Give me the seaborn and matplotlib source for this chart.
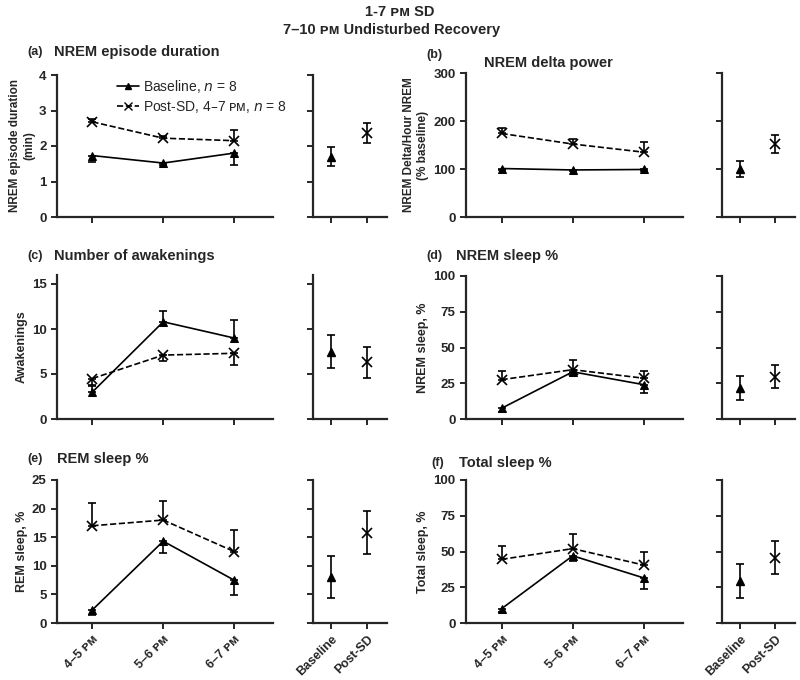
import numpy as np
import pandas as pd
import matplotlib
matplotlib.use("Agg")
import matplotlib.pyplot as plt
import seaborn as sns
from matplotlib.lines import Line2D

# ---- data ----
hours = ['4–5 ᴘᴍ', '5–6 ᴘᴍ', '6–7 ᴘᴍ']
groups = ['Baseline', 'Post-SD']

dur_base = [1.73, 1.52, 1.80]
dur_base_err = [0.18, 0.05, 0.33]
dur_post = [2.68, 2.22, 2.15]
dur_post_err = [0.09, 0.05, 0.30]
dur_mean = [1.70, 2.37]
dur_mean_err = [0.27, 0.28]

delta_base = [101, 98, 99]
delta_base_err = [4, 3, 3]
delta_post = [174, 152, 135]
delta_post_err = [11, 10, 22]
delta_mean = [100, 152]
delta_mean_err = [17, 18]

awake_base = [3.0, 10.8, 9.0]
awake_base_err = [0.7, 1.2, 2.0]
awake_post = [4.5, 7.1, 7.3]
awake_post_err = [0.7, 0.6, 1.3]
awake_mean = [7.5, 6.3]
awake_mean_err = [1.8, 1.7]

nrem_base = [7.5, 33.0, 24.0]
nrem_base_err = [2.5, 3.0, 5.5]
nrem_post = [27.5, 34.5, 28.5]
nrem_post_err = [6.0, 6.5, 5.0]
nrem_mean = [21.5, 29.5]
nrem_mean_err = [8.5, 8.0]

rem_base = [2.3, 14.3, 7.5]
rem_base_err = [0.9, 2.1, 2.6]
rem_post = [17.0, 18.0, 12.5]
rem_post_err = [4.0, 3.4, 3.7]
rem_mean = [8.1, 15.8]
rem_mean_err = [3.7, 3.7]

tot_base = [10.0, 47.0, 31.5]
tot_base_err = [2.5, 3.5, 7.5]
tot_post = [44.5, 52.0, 40.5]
tot_post_err = [9.5, 10.0, 9.0]
tot_mean = [29.5, 45.5]
tot_mean_err = [11.8, 11.5]

sns.set_style("ticks")
plt.rcParams['font.family'] = ['Liberation Sans', 'DejaVu Sans']
plt.rcParams['axes.linewidth'] = 1.6
plt.rcParams['xtick.major.width'] = 1.4
plt.rcParams['ytick.major.width'] = 1.4
plt.rcParams['xtick.major.size'] = 4
plt.rcParams['ytick.major.size'] = 4

W, H = 800, 680
fig = plt.figure(figsize=(8, 6.8), dpi=100)


def px_axes(x0, y0, x1, y1):
    return fig.add_axes([x0 / W, (H - y1) / H, (x1 - x0) / W, (y1 - y0) / H])


def bold_ticks(a):
    for lab in a.get_xticklabels() + a.get_yticklabels():
        lab.set_fontweight('bold')


def draw_panel(box_main, box_side, base, base_err, post, post_err, mean, mean_err,
               ylim, yticks, ylabel, base_up=False, show_x=False, ylab_size=9):
    ax = px_axes(*box_main)
    sx = px_axes(*box_side)
    df = pd.DataFrame({'hour': np.arange(3).tolist() * 2,
                       'value': base + post,
                       'group': ['Baseline'] * 3 + ['Post-SD'] * 3})
    sns.lineplot(data=df[df.group == 'Baseline'], x='hour', y='value', ax=ax,
                 color='black', lw=1.2, marker='^', markersize=6, markeredgecolor='black')
    sns.lineplot(data=df[df.group == 'Post-SD'], x='hour', y='value', ax=ax,
                 color='black', lw=1.2, ls='--', marker='x', markersize=7,
                 markeredgewidth=1.2, markeredgecolor='black')
    xs = np.arange(3)
    zeros = [0, 0, 0]
    berr = [zeros, base_err] if base_up else [base_err, zeros]
    perr = [post_err, zeros] if base_up else [zeros, post_err]
    ax.errorbar(xs, base, yerr=berr, fmt='none', ecolor='black', elinewidth=1.2, capsize=3, capthick=1.2)
    ax.errorbar(xs, post, yerr=perr, fmt='none', ecolor='black', elinewidth=1.2, capsize=3, capthick=1.2)
    ax.set_xlim(-0.5, 2.55)
    ax.set_ylim(*ylim)
    ax.set_yticks(yticks)
    ax.set_xticks(xs)
    ax.set_ylabel(ylabel, fontsize=ylab_size, fontweight='bold', labelpad=3)
    ax.set_xlabel('')
    ax.tick_params(labelsize=9.5)

    sx.errorbar([0], [mean[0]], yerr=[mean_err[0]], fmt='^', color='black', ms=6,
                elinewidth=1.2, capsize=3, capthick=1.2)
    sx.errorbar([1], [mean[1]], yerr=[mean_err[1]], fmt='x', color='black', ms=7, mew=1.2,
                elinewidth=1.2, capsize=3, capthick=1.2)
    sx.set_xlim(-0.5, 1.55)
    sx.set_ylim(*ylim)
    sx.set_yticks(yticks)
    sx.set_yticklabels([])
    sx.set_xticks([0, 1])
    sx.tick_params(labelsize=9.5)
    if show_x:
        ax.set_xticklabels(hours, rotation=45, ha='right', rotation_mode='anchor', fontsize=9)
        sx.set_xticklabels(groups, rotation=45, ha='right', rotation_mode='anchor', fontsize=9)
    else:
        ax.set_xticklabels([])
        sx.set_xticklabels([])
    bold_ticks(ax)
    bold_ticks(sx)
    sns.despine(ax=ax)
    sns.despine(ax=sx)
    return ax, sx


ax_a, _ = draw_panel((57, 75, 273, 217), (313, 75, 387, 217), dur_base, dur_base_err,
                     dur_post, dur_post_err, dur_mean, dur_mean_err, (0, 4), [0, 1, 2, 3, 4],
                     'NREM episode duration\n(min)', ylab_size=8.5)
draw_panel((466, 73, 683, 217), (722, 73, 795, 217), delta_base, delta_base_err,
           delta_post, delta_post_err, delta_mean, delta_mean_err, (0, 300), [0, 100, 200, 300],
           'NREM Delta/Hour NREM\n(% baseline)', ylab_size=8.5)
draw_panel((57, 275, 273, 419), (313, 275, 387, 419), awake_base, awake_base_err,
           awake_post, awake_post_err, awake_mean, awake_mean_err, (0, 16), [0, 5, 10, 15],
           'Awakenings', base_up=True)
draw_panel((466, 276, 683, 419), (722, 276, 795, 419), nrem_base, nrem_base_err,
           nrem_post, nrem_post_err, nrem_mean, nrem_mean_err, (0, 100), [0, 25, 50, 75, 100],
           'NREM sleep, %')
draw_panel((57, 480, 273, 623), (313, 480, 387, 623), rem_base, rem_base_err,
           rem_post, rem_post_err, rem_mean, rem_mean_err, (0, 25), [0, 5, 10, 15, 20, 25],
           'REM sleep, %', show_x=True)
draw_panel((466, 480, 683, 623), (722, 480, 795, 623), tot_base, tot_base_err,
           tot_post, tot_post_err, tot_mean, tot_mean_err, (0, 100), [0, 25, 50, 75, 100],
           'Total sleep, %', show_x=True)

# legend in panel (a)
handles = [Line2D([], [], color='black', lw=1.2, marker='^', ms=5),
           Line2D([], [], color='black', lw=1.2, ls='--', marker='x', ms=6)]
ax_a.legend(handles, ['Baseline, $n$ = 8', 'Post-SD, 4–7 ᴘᴍ, $n$ = 8'], frameon=False,
            loc='upper left', bbox_to_anchor=(0.22, 1.07), handlelength=1.6, handletextpad=0.3,
            labelspacing=0.3, prop={'weight': 'normal', 'size': 10})


# panel titles
def fig_text(x, y, s, size, **kw):
    fig.text(x / W, 1 - y / H, s, fontsize=size, fontweight='bold', va='center', **kw)


fig_text(27, 52, '(a)', 9)
fig_text(54, 52, 'NREM episode duration', 10.5)
fig_text(426, 55, '(b)', 9)
fig_text(484, 63, 'NREM delta power', 10.5)
fig_text(27, 256, '(c)', 9)
fig_text(54, 256, 'Number of awakenings', 10.5)
fig_text(426, 256, '(d)', 9)
fig_text(456, 256, 'NREM sleep %', 10.5)
fig_text(27, 459, '(e)', 9)
fig_text(57, 459, 'REM sleep %', 10.5)
fig_text(431, 463, '(f)', 9)
fig_text(459, 463, 'Total sleep %', 10.5)

fig_text(400, 12, '1-7 ᴘᴍ SD', 10.5, ha='center')
fig_text(392, 30, '7–10 ᴘᴍ Undisturbed Recovery', 10.5, ha='center')

fig.savefig('out.png', dpi=100)
